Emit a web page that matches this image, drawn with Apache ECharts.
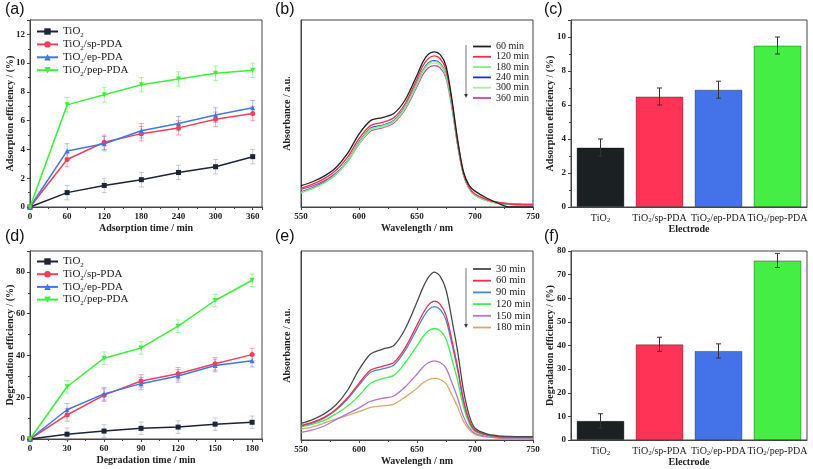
<!DOCTYPE html>
<html><head><meta charset="utf-8">
<script src="https://cdn.jsdelivr.net/npm/echarts@6/dist/echarts.min.js"></script>
<style>html,body{margin:0;padding:0;background:#fff}#c{width:813px;height:469px}</style>
</head><body><div id="c"></div>
<script>
// ---------- data ----------
const groups = ['TiO2', 'TiO2/sp-PDA', 'TiO2/ep-PDA', 'TiO2/pep-PDA'];
const groupColors = ['#1c2436', '#f0405c', '#3f78e6', '#3cf03c'];
const barColors = ['#1b2023', '#ff3355', '#4472e8', '#44ee44'];

// (a) adsorption kinetics
const adsTime = [0, 60, 120, 180, 240, 300, 360];
const adsTiO2 = [0, 1.0, 1.5, 1.9, 2.4, 2.8, 3.5];
const adsSp   = [0, 3.3, 4.5, 5.1, 5.5, 6.1, 6.5];
const adsEp   = [0, 3.9, 4.4, 5.3, 5.8, 6.4, 6.9];
const adsPep  = [0, 7.1, 7.8, 8.5, 8.9, 9.3, 9.5];
const adsErr  = [0, 0.5, 0.5, 0.5, 0.5, 0.5, 0.5];

// (d) degradation kinetics
const degTime = [0, 30, 60, 90, 120, 150, 180];
const degTiO2 = [0, 2.3, 3.8, 5.1, 5.7, 7.1, 8.0];
const degSp   = [0, 11.5, 21.0, 27.8, 31.2, 36.0, 40.4];
const degEp   = [0, 14.0, 21.6, 26.5, 30.2, 35.2, 37.5];
const degPep  = [0, 25.0, 38.7, 43.6, 54.0, 66.3, 76.0];
const degErr  = [0, 3, 3, 3, 3, 3, 3];

// (c) adsorption bars, (f) degradation bars
const adsBar = [3.5, 6.5, 6.9, 9.5];
const adsBarErr = [0.5, 0.5, 0.5, 0.5];
const degBar = [8.1, 40.5, 37.7, 76.0];
const degBarErr = [3.0, 3.0, 3.0, 3.0];

// (b),(e) spectra
const wl = [550,560,570,580,590,600,610,620,630,640,650,655,660,665,670,675,680,685,690,695,700,710,720,730,740,750];
const bNames = ['60 min','120 min','180 min','240 min','300 min','360 min'];
const bColors = ['#222222','#f03050','#80ee80','#2233bb','#a8f0a8','#cc44aa'];
const b60  = [0.114,0.135,0.165,0.210,0.285,0.390,0.462,0.478,0.500,0.575,0.705,0.775,0.818,0.830,0.815,0.755,0.580,0.360,0.190,0.115,0.085,0.048,0.020,0.000,0.000,0.000];
const b120 = [0.100,0.122,0.152,0.195,0.265,0.365,0.435,0.452,0.477,0.555,0.685,0.753,0.795,0.808,0.793,0.735,0.565,0.350,0.182,0.105,0.070,0.040,0.024,0.016,0.013,0.012];
const b180 = [0.078,0.100,0.130,0.175,0.245,0.345,0.418,0.434,0.460,0.537,0.662,0.728,0.768,0.779,0.765,0.708,0.545,0.338,0.175,0.098,0.062,0.034,0.020,0.014,0.012,0.012];
const b240 = [0.080,0.102,0.132,0.177,0.247,0.347,0.421,0.437,0.463,0.540,0.665,0.731,0.771,0.782,0.768,0.711,0.548,0.340,0.176,0.099,0.063,0.035,0.020,0.014,0.012,0.012];
const b300 = [0.076,0.097,0.127,0.171,0.240,0.339,0.412,0.428,0.454,0.531,0.655,0.720,0.759,0.769,0.756,0.700,0.540,0.336,0.175,0.099,0.064,0.036,0.021,0.015,0.013,0.013];
const b360 = [0.095,0.113,0.140,0.180,0.243,0.336,0.407,0.423,0.449,0.524,0.645,0.708,0.746,0.756,0.744,0.690,0.533,0.333,0.175,0.101,0.068,0.040,0.025,0.018,0.016,0.015];

const eNames = ['30 min','60 min','90 min','120 min','150 min','180 min'];
const eColors = ['#4a4a4a','#f03050','#4a88cc','#44ee55','#b275d6','#d8aa66'];
const e30  = [0.088,0.108,0.138,0.185,0.262,0.372,0.455,0.480,0.500,0.590,0.730,0.805,0.862,0.888,0.866,0.795,0.640,0.470,0.265,0.130,0.062,0.032,0.022,0.019,0.018,0.018];
const e60  = [0.076,0.094,0.120,0.162,0.222,0.300,0.370,0.390,0.410,0.490,0.608,0.668,0.715,0.735,0.718,0.660,0.530,0.385,0.215,0.105,0.052,0.028,0.018,0.015,0.014,0.014];
const e90  = [0.074,0.091,0.116,0.157,0.215,0.290,0.358,0.376,0.396,0.475,0.588,0.645,0.690,0.706,0.690,0.635,0.510,0.370,0.205,0.100,0.050,0.027,0.018,0.015,0.014,0.014];
const e120 = [0.070,0.084,0.104,0.138,0.178,0.235,0.300,0.325,0.342,0.410,0.498,0.545,0.578,0.590,0.578,0.535,0.430,0.315,0.175,0.088,0.045,0.026,0.020,0.018,0.018,0.018];
const e150 = [0.040,0.054,0.074,0.108,0.138,0.170,0.205,0.220,0.233,0.282,0.348,0.385,0.410,0.419,0.410,0.380,0.305,0.222,0.125,0.065,0.035,0.018,0.012,0.010,0.010,0.010];
const e180 = [0.058,0.070,0.089,0.110,0.130,0.150,0.172,0.180,0.190,0.228,0.274,0.302,0.320,0.326,0.320,0.298,0.240,0.175,0.100,0.055,0.030,0.016,0.010,0.008,0.008,0.008];

// ---------- helpers ----------
const SERIF = 'Liberation Serif';
const INK = '#222';
function richName(n) {
  const rest = n.slice(4);
  return '{n|TiO}{s|2}' + (rest ? '{n|' + rest + '}' : '');
}
function richDef(fs, lh) {
  return {
    n: { fontFamily: SERIF, fontSize: fs, lineHeight: lh, color: INK },
    s: { fontFamily: SERIF, fontSize: Math.round(fs * 0.68), lineHeight: Math.round(lh * 0.55), verticalAlign: 'bottom', color: INK }
  };
}
const tickLabel = { fontFamily: SERIF, fontWeight: 'bold', fontSize: 9, color: INK, margin: 5 };
const nameStyle = { fontFamily: SERIF, fontWeight: 'bold', fontSize: 10, color: INK };
const axisLine = { show: true, lineStyle: { color: '#444', width: 1 } };

function valAxis(gi, min, max, interval, name, gap, extra) {
  return Object.assign({
    type: 'value', gridIndex: gi, min, max, interval,
    name, nameLocation: 'middle', nameGap: gap, nameTextStyle: nameStyle, nameMoveOverlap: false,
    axisLine, splitLine: { show: false },
    axisTick: { show: true, length: 3, inside: false, lineStyle: { color: '#444' } },
    minorTick: { show: true, splitNumber: 2, length: 2, lineStyle: { color: '#444' } },
    axisLabel: Object.assign({ showMaxLabel: false }, tickLabel)
  }, extra || {});
}
function errSeries(xi, color, data, capW, lw) {
  return {
    type: 'custom', xAxisIndex: xi, yAxisIndex: xi, data, z: 1, silent: true,
    renderItem(params, api) {
      const x = api.value(0), lo = api.value(1), hi = api.value(2);
      if (!(hi > lo)) return null;
      const a = api.coord([x, lo]), b = api.coord([x, hi]);
      const st = { stroke: color, lineWidth: lw };
      return { type: 'group', children: [
        { type: 'line', shape: { x1: a[0], y1: a[1], x2: b[0], y2: b[1] }, style: st },
        { type: 'line', shape: { x1: a[0] - capW, y1: a[1], x2: a[0] + capW, y2: a[1] }, style: st },
        { type: 'line', shape: { x1: b[0] - capW, y1: b[1], x2: b[0] + capW, y2: b[1] }, style: st }
      ]};
    }
  };
}
function hexA(hex, a) {
  const v = parseInt(hex.slice(1), 16);
  return 'rgba(' + (v >> 16 & 255) + ',' + (v >> 8 & 255) + ',' + (v & 255) + ',' + a + ')';
}

// ---------- grids & axes ----------
const grids = [
  { left: 30, top: 20, width: 232, height: 187 },
  { left: 301, top: 20, width: 232, height: 187 },
  { left: 571, top: 20, width: 236, height: 187 },
  { left: 30, top: 251, width: 232, height: 188 },
  { left: 301, top: 251, width: 232, height: 189 },
  { left: 571, top: 251, width: 236, height: 189 }
].map(g => Object.assign(g, { show: true, borderColor: '#444', borderWidth: 1, backgroundColor: 'transparent', containLabel: false, outerBoundsMode: 'none' }));

const specX = gi => valAxis(gi, 550, 750, 50, 'Wavelength / nm', 16, { axisLabel: Object.assign({}, tickLabel) });
const specY = gi => ({
  type: 'value', gridIndex: gi, min: 0, max: 1, name: 'Absorbance / a.u.', nameLocation: 'middle', nameGap: 9,
  nameTextStyle: nameStyle, nameMoveOverlap: false, axisLine, splitLine: { show: false },
  axisTick: { show: false }, axisLabel: { show: false }
});
const catX = gi => ({
  type: 'category', gridIndex: gi, data: groups, name: 'Electrode', nameLocation: 'middle', nameGap: 17,
  nameTextStyle: nameStyle, nameMoveOverlap: false, axisLine, axisTick: { show: false },
  axisLabel: { margin: 5, interval: 0, hideOverlap: false, formatter: v => richName(v), rich: richDef(10, 12) }
});

const xAxis = [
  valAxis(0, 0, 375, 60, 'Adsorption time / min', 16),
  specX(1),
  catX(2),
  valAxis(3, 0, 188, 30, 'Degradation time / min', 16),
  specX(4),
  catX(5)
];
const yAxis = [
  valAxis(0, 0, 13, 2, 'Adsorption efficiency / (%)', 15),
  specY(1),
  valAxis(2, 0, 11, 2, 'Adsorption efficiency / (%)', 16),
  valAxis(3, 0, 90, 20, 'Degradation efficiency / (%)', 15),
  specY(4),
  valAxis(5, 0, 80, 10, 'Degradation efficiency / (%)', 16, { minorTick: { show: false }, axisLabel: Object.assign({ showMaxLabel: true }, tickLabel) })
];

// ---------- series ----------
const series = [];
const symbols = ['rect', 'circle', 'triangle', 'path://M0,0 L10,0 L5,9 Z'];
const adsSets = [adsTiO2, adsSp, adsEp, adsPep];
const degSets = [degTiO2, degSp, degEp, degPep];

function kinetic(prefix, gi, xs, sets, err) {
  sets.forEach((ys, k) => {
    series.push(errSeries(gi, hexA(k === 0 ? '#8890a0' : groupColors[k], 0.45),
      xs.map((x, i) => [x, ys[i] - err[i], ys[i] + err[i]]), 2.5, 1));
  });
  sets.forEach((ys, k) => {
    series.push({
      type: 'line', name: prefix + groups[k], xAxisIndex: gi, yAxisIndex: gi, z: 3,
      data: xs.map((x, i) => [x, ys[i]]),
      symbol: symbols[k], symbolSize: 5, showSymbol: true,
      lineStyle: { color: groupColors[k], width: 1.5 }, itemStyle: { color: groupColors[k] }
    });
  });
}
kinetic('a:', 0, adsTime, adsSets, adsErr);
kinetic('d:', 3, degTime, degSets, degErr);

function spectra(prefix, gi, names, colors, sets) {
  sets.forEach((ys, k) => {
    series.push({
      type: 'line', name: prefix + names[k], xAxisIndex: gi, yAxisIndex: gi, z: 3 + (sets.length - k),
      data: wl.map((w, i) => [w, ys[i]]), smooth: 0.3,
      symbol: 'none', showSymbol: false,
      lineStyle: { color: colors[k], width: 1.3 }, itemStyle: { color: colors[k] }
    });
  });
}
spectra('b:', 1, bNames, bColors, [b60, b120, b180, b240, b300, b360]);
spectra('e:', 4, eNames, eColors, [e30, e60, e90, e120, e150, e180]);

function bars(gi, vals, errs) {
  series.push({
    type: 'bar', xAxisIndex: gi, yAxisIndex: gi, barWidth: '81%', z: 2,
    data: vals.map((v, i) => ({ value: v, itemStyle: { color: barColors[i], borderColor: 'rgba(0,0,0,0.35)', borderWidth: 1 } }))
  });
  series.push(Object.assign(errSeries(gi, '#333', vals.map((v, i) => [i, v - errs[i], v + errs[i]]), 2.5, 1), { z: 4 }));
}
bars(2, adsBar, adsBarErr);
bars(5, degBar, degBarErr);

// ---------- legends ----------
const legendBase = { orient: 'vertical', padding: 0, selectedMode: false };
const LINE_ICON = 'path://M0,0 L20,0 L20,2 L0,2 Z';
const legend = [
  Object.assign({}, legendBase, { left: 36, top: 26, itemWidth: 21, itemHeight: 8, itemGap: 0.4,
    data: groups.map(g => 'a:' + g), formatter: n => richName(n.slice(2)), textStyle: { rich: richDef(11, 14) } }),
  Object.assign({}, legendBase, { left: 36, top: 256, itemWidth: 21, itemHeight: 8, itemGap: 0.2,
    data: groups.map(g => 'd:' + g), formatter: n => richName(n.slice(2)), textStyle: { rich: richDef(11, 14) } }),
  Object.assign({}, legendBase, { left: 473, top: 41.5, itemWidth: 18, itemHeight: 2, itemGap: 0.3, icon: LINE_ICON,
    data: bNames.map(g => 'b:' + g), formatter: n => n.slice(2),
    textStyle: { fontFamily: SERIF, fontSize: 10, lineHeight: 10, color: INK } }),
  Object.assign({}, legendBase, { left: 473, top: 263.5, itemWidth: 18, itemHeight: 2, itemGap: 0.7, icon: LINE_ICON,
    data: eNames.map(g => 'e:' + g), formatter: n => n.slice(2),
    textStyle: { fontFamily: SERIF, fontSize: 10.5, lineHeight: 11, color: INK } })
];

// ---------- annotations ----------
function panelLabel(t, x, y) {
  return { type: 'text', left: x, top: y, style: { text: t, font: '16px "Liberation Sans"', fill: '#111' } };
}
function arrow(x, y1, y2) {
  return [
    { type: 'line', shape: { x1: x, y1: y1, x2: x, y2: y2 - 3 }, style: { stroke: '#555', lineWidth: 0.8 } },
    { type: 'polygon', shape: { points: [[x - 1.8, y2 - 4], [x + 1.8, y2 - 4], [x, y2]] }, style: { fill: '#333' } }
  ];
}
const graphic = [
  panelLabel('(a)', 5, 2), panelLabel('(b)', 275, 2), panelLabel('(c)', 544, 2),
  panelLabel('(d)', 5, 229), panelLabel('(e)', 275, 229), panelLabel('(f)', 544, 229),
  ...arrow(466, 45, 98), ...arrow(466, 268, 328)
];

const chart = echarts.init(document.getElementById('c'), null, { renderer: 'canvas' });
chart.setOption({
  animation: false, backgroundColor: '#fff',
  grid: grids, xAxis, yAxis, series, legend, graphic, tooltip: { show: false }
});
</script></body></html>
